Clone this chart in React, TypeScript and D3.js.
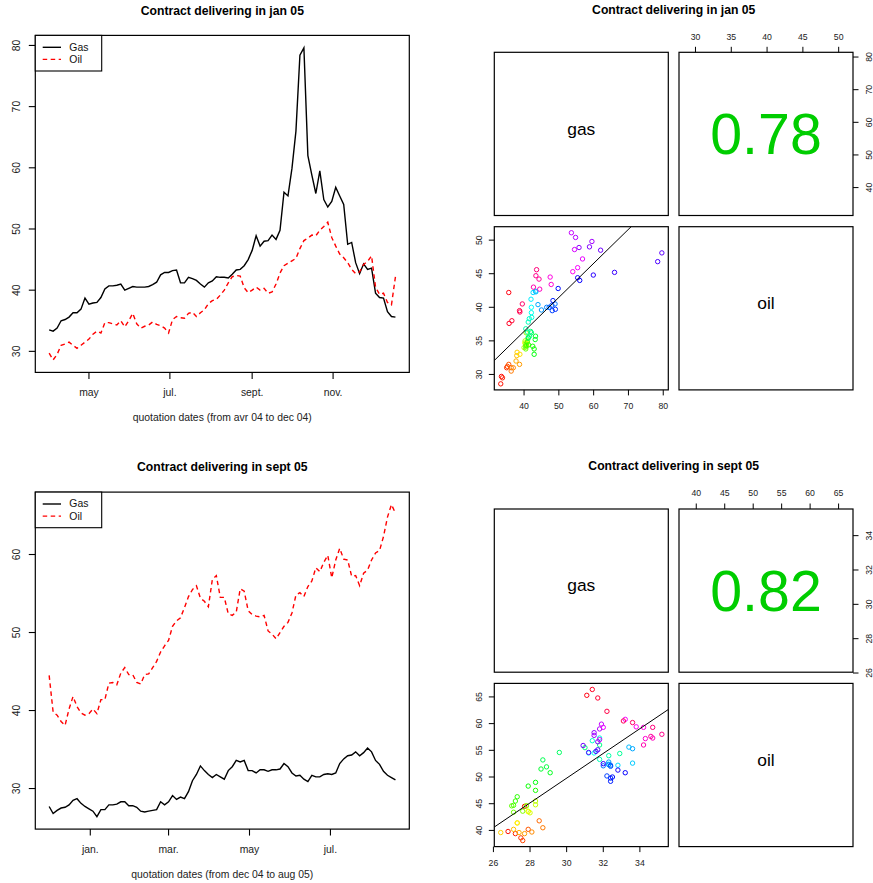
import React, { useEffect, useRef } from 'react';
import * as d3 from 'd3';

const W = 873, H = 883;
const FONT = '"Liberation Sans", Arial, Helvetica, sans-serif';
const STEP_DAYS = 3; // one quote kept every 3 days

// contract delivering in jan 05, quotes from 1 apr 2004
const jan05Start = new Date(2004, 3, 1);
const jan05Gas = [
  33.5, 33.3, 33.8, 35.0, 35.2, 35.6, 36.3, 36.3, 36.9, 38.7,
  37.7, 37.9, 38.0, 38.8, 40.2, 40.7, 40.7, 40.8, 41.0, 40.0,
  40.3, 40.6, 40.5, 40.5, 40.5, 40.6, 40.9, 41.3, 42.5, 42.9,
  42.9, 43.2, 43.3, 41.2, 41.2, 42.1, 41.9, 41.6, 41.0, 40.5,
  41.2, 41.5, 42.2, 42.1, 42.1, 42.0, 42.6, 43.3, 43.4, 44.0,
  45.0, 46.5, 48.9, 47.2, 48.0, 48.1, 49.0, 48.3, 49.8, 56.0,
  55.4, 59.9, 66.0, 78.4, 79.6, 62.0, 58.8, 55.8, 59.5, 54.8,
  53.6, 54.5, 56.8, 55.4, 54.0, 47.5, 47.8, 44.5, 42.7, 44.3,
  43.4, 43.6, 39.5, 38.8, 38.7, 36.5, 35.7, 35.6,
];
const jan05Oil = [
  29.7, 28.6, 29.5, 31.0, 31.2, 31.5, 31.0, 30.5, 31.0, 31.5,
  32.0, 32.8, 33.3, 33.0, 34.7, 34.7, 34.5, 34.3, 35.0, 34.0,
  35.0, 36.2, 34.5, 33.8, 34.1, 34.3, 34.8, 34.4, 34.2, 33.8,
  33.0, 35.2, 35.7, 35.5, 35.4, 36.2, 36.4, 35.7, 36.3, 36.8,
  37.8, 38.3, 38.5, 39.2, 40.0, 41.2, 42.2, 42.4, 42.3, 40.4,
  39.6, 40.0, 40.5, 40.0, 40.3, 39.5, 39.7, 41.0, 42.8, 44.0,
  44.4, 44.8, 45.2, 46.8, 48.1, 48.5, 49.0, 48.9, 49.8, 50.4,
  51.1, 48.6, 47.2, 45.9, 45.3, 44.5, 43.4, 42.7, 43.0, 44.2,
  44.7, 45.6, 40.5, 39.3, 39.5, 38.0, 37.6, 42.2,
];
const jan05MonthTicks = [new Date(2004, 4, 1), new Date(2004, 6, 1), new Date(2004, 8, 1), new Date(2004, 10, 1)];
const jan05MonthLabels = ['may', 'jul.', 'sept.', 'nov.'];
const jan05PriceTicks = [30, 40, 50, 60, 70, 80];
const jan05GasTicks = [40, 50, 60, 70, 80];
const jan05OilTicks = [30, 35, 40, 45, 50];

// contract delivering in sept 05, quotes from 1 dec 2004
const sep05Start = new Date(2004, 11, 1);
const sep05Gas = [
  27.7, 26.8, 27.2, 27.5, 27.6, 27.9, 28.5, 28.7, 28.1, 27.7,
  27.4, 27.1, 26.4, 27.3, 27.3, 27.9, 27.9, 28.0, 28.3, 28.3,
  27.8, 27.8, 27.6, 27.1, 27.0, 27.1, 27.2, 27.3, 28.3, 27.9,
  28.3, 29.1, 28.6, 28.9, 28.7, 29.6, 31.0, 31.8, 32.9, 32.3,
  31.8, 31.4, 31.8, 31.5, 31.2, 32.3, 32.8, 33.6, 33.4, 33.6,
  32.3, 32.3, 32.0, 32.4, 32.4, 32.2, 32.4, 32.4, 32.5, 33.2,
  32.8, 32.0, 31.6, 31.7, 31.2, 30.9, 31.7, 31.5, 31.5, 31.8,
  31.9, 31.8, 32.0, 33.2, 33.8, 34.2, 34.3, 34.7, 34.2, 34.6,
  35.2, 34.7, 33.6, 33.1, 32.2, 31.7, 31.4, 31.1,
];
const sep05Oil = [
  44.5, 39.8, 39.4, 38.6, 38.1, 40.2, 41.8, 40.5, 39.7, 39.4,
  39.6, 40.2, 39.6, 41.4, 41.4, 43.5, 43.6, 43.3, 44.8, 45.5,
  44.6, 44.6, 43.6, 43.4, 44.6, 44.7, 45.5, 46.3, 47.5, 48.3,
  49.0, 50.8, 51.5, 51.9, 53.2, 54.6, 55.5, 56.0, 54.4, 54.0,
  53.3, 56.8, 57.3, 54.5, 54.5, 52.4, 52.2, 52.6, 55.6, 55.3,
  52.8, 52.3, 52.1, 52.0, 52.2, 50.2, 49.8, 49.2, 50.0, 50.8,
  51.3, 52.5, 54.8, 55.1, 54.6, 55.9, 56.6, 58.3, 57.8, 59.0,
  59.9, 57.0, 59.3, 60.8, 59.4, 59.3, 57.2, 57.3, 56.0, 57.6,
  58.0, 59.3, 60.2, 60.5, 62.3, 64.8, 66.4, 65.3,
];
const sep05MonthTicks = [new Date(2005, 0, 1), new Date(2005, 2, 1), new Date(2005, 4, 1), new Date(2005, 6, 1)];
const sep05MonthLabels = ['jan.', 'mar.', 'may', 'jul.'];
const sep05PriceTicks = [30, 40, 50, 60];
const sep05GasTicks = [26, 28, 30, 32, 34];
const sep05OilTicks = [40, 45, 50, 55, 60, 65];

const ROW_TOP = [0, 456.7];

// R style range: data extent widened by 4%
function padRange(values: number[]): [number, number] {
  const [a, b] = d3.extent(values) as [number, number];
  const p = (b - a) * 0.04;
  return [a - p, b + p];
}

function drawSeries(svg: any, top: number, cfg: any) {
  const g = svg.append('g').attr('transform', `translate(0,${top})`);
  const box = { left: 35.3, right: 409.3, top: 35.4, bottom: 372.4 };
  const dates = cfg.gas.map((_: number, i: number) => d3.timeDay.offset(cfg.start, i * STEP_DAYS));
  const [t0, t1] = padRange(dates.map((d: Date) => d.getTime()));
  const x = d3.scaleTime().domain([new Date(t0), new Date(t1)]).range([box.left, box.right]);
  const y = d3.scaleLinear().domain(padRange([...cfg.gas, ...cfg.oil])).range([box.bottom, box.top]);

  const line = d3.line<number>()
    .x((_, i) => x(dates[i]))
    .y(d => y(d));

  g.append('path').datum(cfg.gas).attr('d', line)
    .attr('fill', 'none').attr('stroke', '#000').attr('stroke-width', 1.4);
  g.append('path').datum(cfg.oil).attr('d', line)
    .attr('fill', 'none').attr('stroke', '#ff0000').attr('stroke-width', 1.4)
    .attr('stroke-dasharray', '4.5,3.5');

  g.append('rect')
    .attr('x', box.left).attr('y', box.top)
    .attr('width', box.right - box.left).attr('height', box.bottom - box.top)
    .attr('fill', 'none').attr('stroke', '#000').attr('stroke-width', 1.2);

  // x axis
  g.selectAll('.xt').data(cfg.monthTicks).join('line')
    .attr('x1', (d: Date) => x(d)).attr('x2', (d: Date) => x(d))
    .attr('y1', box.bottom).attr('y2', box.bottom + 6.5)
    .attr('stroke', '#000').attr('stroke-width', 1.1);
  g.selectAll('.xl').data(cfg.monthTicks).join('text')
    .attr('x', (d: Date) => x(d)).attr('y', box.bottom + 20.5)
    .attr('text-anchor', 'middle').attr('dominant-baseline', 'central')
    .attr('font-size', 10.4).attr('fill', '#222')
    .text((_: Date, i: number) => cfg.monthLabels[i]);

  // y axis
  g.selectAll('.yt').data(cfg.priceTicks).join('line')
    .attr('x1', box.left - 6.5).attr('x2', box.left)
    .attr('y1', (d: number) => y(d)).attr('y2', (d: number) => y(d))
    .attr('stroke', '#000').attr('stroke-width', 1.1);
  g.selectAll('.yl').data(cfg.priceTicks).join('text')
    .attr('transform', (d: number) => `translate(16.3,${y(d)}) rotate(-90)`)
    .attr('text-anchor', 'middle').attr('dominant-baseline', 'central')
    .attr('font-size', 10.4).attr('fill', '#222')
    .text((d: number) => d);

  g.append('text')
    .attr('x', (box.left + box.right) / 2).attr('y', 10.5)
    .attr('text-anchor', 'middle').attr('dominant-baseline', 'central')
    .attr('font-size', 12.2).attr('font-weight', 'bold')
    .text(cfg.title);
  g.append('text')
    .attr('x', (box.left + box.right) / 2).attr('y', box.bottom + 45)
    .attr('text-anchor', 'middle').attr('dominant-baseline', 'central')
    .attr('font-size', 10.4).attr('fill', '#222')
    .text(cfg.xlab);

  // legend
  const lg = g.append('g');
  lg.append('rect')
    .attr('x', box.left).attr('y', box.top)
    .attr('width', 66.4).attr('height', 35.6)
    .attr('fill', '#fff').attr('stroke', '#000').attr('stroke-width', 1.1);
  const entries = [
    { name: 'Gas', color: '#000', dash: null },
    { name: 'Oil', color: '#ff0000', dash: '4.5,3.5' },
  ];
  entries.forEach((e, i) => {
    const ly = box.top + 11.9 + i * 12.1;
    lg.append('line')
      .attr('x1', 42.7).attr('x2', 61).attr('y1', ly).attr('y2', ly)
      .attr('stroke', e.color).attr('stroke-width', 1.4)
      .attr('stroke-dasharray', e.dash);
    lg.append('text')
      .attr('x', 69.3).attr('y', ly)
      .attr('dominant-baseline', 'central')
      .attr('font-size', 10.4).attr('fill', '#111')
      .text(e.name);
  });
}

function drawPairs(svg: any, top: number, cfg: any) {
  const g = svg.append('g').attr('transform', `translate(0,${top})`);
  const cols = [494.3, 679];
  const rows = [52.3, 226.7];
  const cw = 174, ch = 163.2;
  const n = cfg.gas.length;

  const gasDom = padRange(cfg.gas);
  const oilDom = padRange(cfg.oil);

  // lower-left panel: gas on x, oil on y
  const xGas = d3.scaleLinear().domain(gasDom).range([cols[0], cols[0] + cw]);
  const yOil = d3.scaleLinear().domain(oilDom).range([rows[1] + ch, rows[1]]);
  // upper-right panel axes: oil on x (top), gas on y (right)
  const xOil = d3.scaleLinear().domain(oilDom).range([cols[1], cols[1] + cw]);
  const yGas = d3.scaleLinear().domain(gasDom).range([rows[0] + ch, rows[0]]);

  const clipId = `clip-${Math.round(top)}`;
  g.append('clipPath').attr('id', clipId).append('rect')
    .attr('x', cols[0]).attr('y', rows[1]).attr('width', cw).attr('height', ch);

  const pts = cfg.gas.map((gv: number, i: number) => ({ gas: gv, oil: cfg.oil[i], i }));
  g.append('g').selectAll('circle').data(pts).join('circle')
    .attr('cx', (d: any) => xGas(d.gas)).attr('cy', (d: any) => yOil(d.oil))
    .attr('r', 2.2).attr('fill', 'none').attr('stroke-width', 1)
    .attr('stroke', (d: any) => d3.hsl((360 * d.i) / n, 1, 0.5).formatHex());

  // least squares fit oil ~ gas
  const mg = d3.mean(cfg.gas) as number, mo = d3.mean(cfg.oil) as number;
  const sxy = d3.sum(pts, (d: any) => (d.gas - mg) * (d.oil - mo));
  const sxx = d3.sum(pts, (d: any) => (d.gas - mg) ** 2);
  const slope = sxy / sxx, icpt = mo - slope * mg;
  g.append('line')
    .attr('clip-path', `url(#${clipId})`)
    .attr('x1', xGas(gasDom[0])).attr('y1', yOil(icpt + slope * gasDom[0]))
    .attr('x2', xGas(gasDom[1])).attr('y2', yOil(icpt + slope * gasDom[1]))
    .attr('stroke', '#000').attr('stroke-width', 1);

  rows.forEach(ry => cols.forEach(cx => {
    g.append('rect').attr('x', cx).attr('y', ry).attr('width', cw).attr('height', ch)
      .attr('fill', 'none').attr('stroke', '#000').attr('stroke-width', 1.2);
  }));

  g.append('text')
    .attr('x', cols[0] + cw / 2).attr('y', rows[0] + ch / 2 + 0.8)
    .attr('text-anchor', 'middle').attr('font-size', 17.4).text('gas');
  g.append('text')
    .attr('x', cols[1] + cw / 2).attr('y', rows[1] + ch / 2 + 0.8)
    .attr('text-anchor', 'middle').attr('font-size', 17.4).text('oil');
  g.append('text')
    .attr('x', cols[1] + cw / 2).attr('y', rows[0] + ch / 2 + 20.3)
    .attr('text-anchor', 'middle').attr('font-size', 57.3).attr('fill', '#00cd00')
    .text(cfg.corr);

  const tickStyle = (sel: any) => sel.attr('stroke', '#000').attr('stroke-width', 1);
  const labStyle = (sel: any) => sel.attr('text-anchor', 'middle').attr('dominant-baseline', 'central')
    .attr('font-size', 8.7).attr('fill', '#222');

  // top axis (oil)
  tickStyle(g.selectAll('.tt').data(cfg.oilTicks).join('line')
    .attr('x1', (d: number) => xOil(d)).attr('x2', (d: number) => xOil(d))
    .attr('y1', rows[0]).attr('y2', rows[0] - 5.5));
  labStyle(g.selectAll('.tl').data(cfg.oilTicks).join('text')
    .attr('x', (d: number) => xOil(d)).attr('y', 36.5).text((d: number) => d));
  // right axis (gas)
  tickStyle(g.selectAll('.rt').data(cfg.gasTicks).join('line')
    .attr('x1', cols[1] + cw).attr('x2', cols[1] + cw + 5.5)
    .attr('y1', (d: number) => yGas(d)).attr('y2', (d: number) => yGas(d)));
  labStyle(g.selectAll('.rl').data(cfg.gasTicks).join('text')
    .attr('transform', (d: number) => `translate(868.8,${yGas(d)}) rotate(-90)`).text((d: number) => d));
  // bottom axis (gas)
  tickStyle(g.selectAll('.bt').data(cfg.gasTicks).join('line')
    .attr('x1', (d: number) => xGas(d)).attr('x2', (d: number) => xGas(d))
    .attr('y1', rows[1] + ch).attr('y2', rows[1] + ch + 5.5));
  labStyle(g.selectAll('.bl').data(cfg.gasTicks).join('text')
    .attr('x', (d: number) => xGas(d)).attr('y', rows[1] + ch + 16).text((d: number) => d));
  // left axis (oil)
  tickStyle(g.selectAll('.lt').data(cfg.oilTicks).join('line')
    .attr('x1', cols[0] - 5.5).attr('x2', cols[0])
    .attr('y1', (d: number) => yOil(d)).attr('y2', (d: number) => yOil(d)));
  labStyle(g.selectAll('.ll').data(cfg.oilTicks).join('text')
    .attr('transform', (d: number) => `translate(478.8,${yOil(d)}) rotate(-90)`).text((d: number) => d));

  g.append('text')
    .attr('x', 673.7).attr('y', 9.7)
    .attr('text-anchor', 'middle').attr('dominant-baseline', 'central')
    .attr('font-size', 12.2).attr('font-weight', 'bold')
    .text(cfg.title);
}

function App() {
  const ref = useRef<SVGSVGElement>(null);

  useEffect(() => {
    const svg = d3.select(ref.current);
    svg.selectAll('*').remove();
    svg.append('rect').attr('width', W).attr('height', H).attr('fill', '#fff');

    drawSeries(svg, ROW_TOP[0], {
      start: jan05Start, gas: jan05Gas, oil: jan05Oil,
      monthTicks: jan05MonthTicks, monthLabels: jan05MonthLabels, priceTicks: jan05PriceTicks,
      title: 'Contract delivering in jan 05', xlab: 'quotation dates (from avr 04 to dec 04)',
    });
    drawSeries(svg, ROW_TOP[1], {
      start: sep05Start, gas: sep05Gas, oil: sep05Oil,
      monthTicks: sep05MonthTicks, monthLabels: sep05MonthLabels, priceTicks: sep05PriceTicks,
      title: 'Contract delivering in sept 05', xlab: 'quotation dates (from dec 04 to aug 05)',
    });
    drawPairs(svg, ROW_TOP[0], {
      gas: jan05Gas, oil: jan05Oil, gasTicks: jan05GasTicks, oilTicks: jan05OilTicks,
      corr: '0.78', title: 'Contract delivering in jan 05',
    });
    drawPairs(svg, ROW_TOP[1], {
      gas: sep05Gas, oil: sep05Oil, gasTicks: sep05GasTicks, oilTicks: sep05OilTicks,
      corr: '0.82', title: 'Contract delivering in sept 05',
    });
  }, []);

  return (
    <svg ref={ref} width={W} height={H}
      style={{ position: 'absolute', left: 0, top: 0, fontFamily: FONT }} />
  );
}

export default App;
